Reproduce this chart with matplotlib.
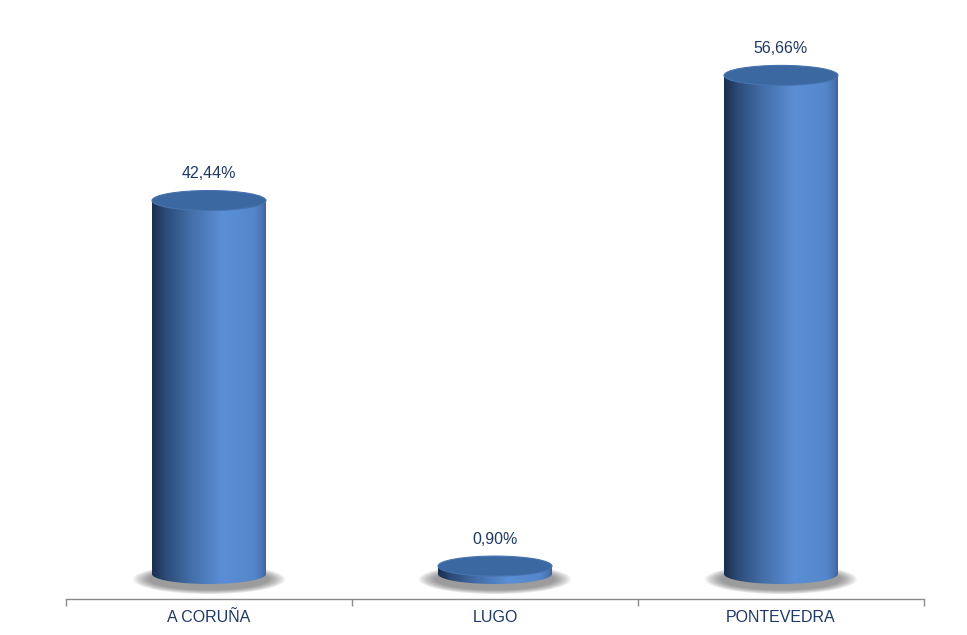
import numpy as np
import matplotlib
matplotlib.use("Agg")
import matplotlib.pyplot as plt
from matplotlib.patches import Ellipse, PathPatch
from matplotlib.path import Path
from matplotlib.colors import LinearSegmentedColormap

categories = ["A CORUÑA", "LUGO", "PONTEVEDRA"]
values = [42.44, 0.90, 56.66]
labels = ["42,44%", "0,90%", "56,66%"]

W, H = 967, 635
fig = plt.figure(figsize=(W / 100, H / 100), dpi=100)
fig.patch.set_facecolor("white")

px_per_unit = 8.8
base_px = 574      # pixel row of value 0 (bottom ellipse centre)
axis_px = 599      # pixel row of axis line
ax = fig.add_axes([66 / W, (H - axis_px) / H, (924 - 66) / W, axis_px / H])
ax.set_xlim(-0.5, len(categories) - 0.5)
ax.set_ylim(-(axis_px - base_px) / px_per_unit, base_px / px_per_unit)
ax.set_facecolor("none")

for s in ["top", "right", "left"]:
    ax.spines[s].set_visible(False)
ax.spines["bottom"].set_color("#8a8a8a")
ax.spines["bottom"].set_linewidth(1.0)
ax.set_yticks([])
ax.set_xticks(np.arange(-0.5, len(categories), 1.0))
ax.set_xticklabels([])
ax.tick_params(axis="x", which="major", direction="out", length=5, color="#8a8a8a", width=1)
ax.set_xticks(np.arange(len(categories)), minor=True)
ax.set_xticklabels(categories, minor=True, fontsize=11.5, color="#1f3864",
                   family="Liberation Sans")
ax.tick_params(axis="x", which="minor", length=0, pad=8)

body_cmap = LinearSegmentedColormap.from_list(
    "body",
    [(0.0, "#1b2f4d"), (0.12, "#2c4b78"), (0.35, "#4470aa"),
     (0.62, "#5b8fd5"), (0.9, "#5486cb"), (0.97, "#4a75b2"), (1.0, "#3f6396")])

half_w = 57 / 286          # cylinder half width in category units
ry = 10 / px_per_unit      # ellipse half height in value units

for i, v in enumerate(values):
    x0, x1 = i - half_w, i + half_w
    # soft shadow
    n = 20
    for k in range(n):
        f = k / (n - 1)
        sc = 1.34 - f * 0.3
        sh = Ellipse((i, -0.6), 2 * half_w * sc, 2 * ry * (1.5 - f * 0.45),
                     facecolor="#606060", edgecolor="none", alpha=0.045, zorder=1)
        ax.add_patch(sh)
    # body path: rectangle + bottom half ellipse
    t = np.linspace(np.pi, 2 * np.pi, 60)
    bx = i + half_w * np.cos(t)
    by = ry * np.sin(t)
    verts = [(x0, v)] + list(zip(bx, by)) + [(x1, v), (x0, v)]
    codes = [Path.MOVETO] + [Path.LINETO] * (len(verts) - 2) + [Path.CLOSEPOLY]
    path = Path(verts, codes)
    patch = PathPatch(path, facecolor="none", edgecolor="none", zorder=2)
    ax.add_patch(patch)
    grad = np.linspace(0, 1, 256).reshape(1, -1)
    im = ax.imshow(grad, cmap=body_cmap, aspect="auto",
                   extent=[x0, x1, -ry, v], zorder=2, interpolation="bicubic")
    im.set_clip_path(patch)
    # top ellipse
    top = Ellipse((i, v), 2 * half_w, 2 * ry, facecolor="#3c68a1",
                  edgecolor="#4774b0", linewidth=0.8, zorder=3)
    ax.add_patch(top)
    # label
    ax.text(i, v + ry + 1.05, labels[i], ha="center", va="bottom",
            fontsize=11.5, color="#1f3864", family="Liberation Sans", zorder=4)

fig.savefig("out.png", dpi=100, facecolor="white")
